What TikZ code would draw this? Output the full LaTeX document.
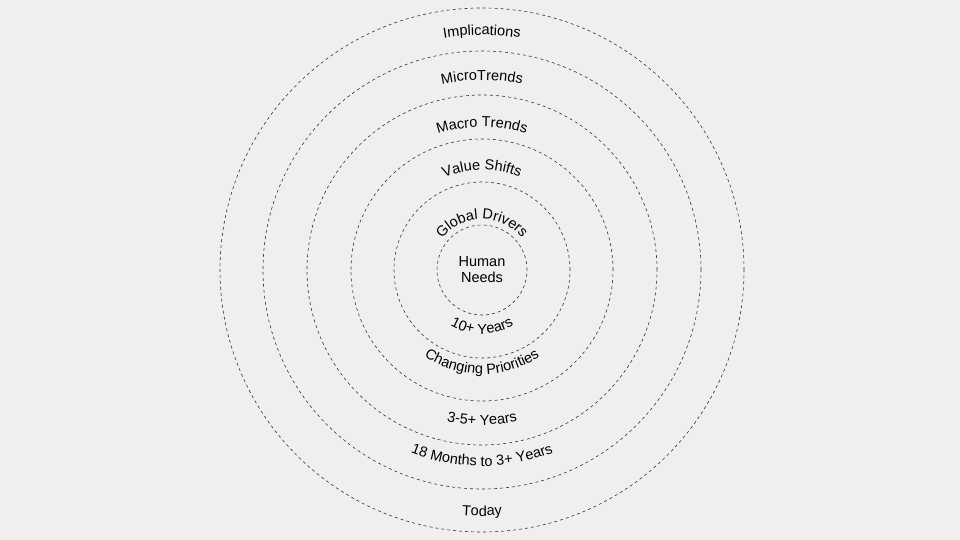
\documentclass[tikz,border=0pt]{standalone}
\usepackage{fontspec}
\setmainfont{Liberation Sans}
\usetikzlibrary{decorations.text}
\newcommand\lblfont{\fontsize{14.5}{16}\selectfont}
\definecolor{bg}{HTML}{EFEFEF}
\tikzset{ring/.style={draw=black!80, dashed, line width=0.6pt}}
\begin{document}
\begin{tikzpicture}[x=1pt,y=1pt]
\fill[bg] (0,0) rectangle (960,-540);
\useasboundingbox (0,0) rectangle (960,-540);
\coordinate (c) at (482,-270);
\foreach \r in {45,88,131,175,219,262} \draw[ring] (c) circle[radius=\r];
\node[align=center, font=\lblfont, inner sep=0] (hn) at (c) {Human\\Needs};
% top labels
\foreach \r/\t in {235/Implications,190/MicroTrends,143/Macro Trends,100/Value Shifts,51/Global Drivers}
  \path[decorate, decoration={text along path, text={|\lblfont|\t}, text align=center}]
    (c) ++(180:\r) arc[start angle=180,end angle=0,radius=\r];
% bottom labels
\foreach \r/\t in {64/10+ Years,104/Changing Priorities,155/3-5+ Years,196/18 Months to 3+ Years,246/Today}
  \path[decorate, decoration={text along path, text={|\lblfont|\t}, text align=center}]
    (c) ++(180:\r) arc[start angle=180,end angle=360,radius=\r];
\end{tikzpicture}
\end{document}
